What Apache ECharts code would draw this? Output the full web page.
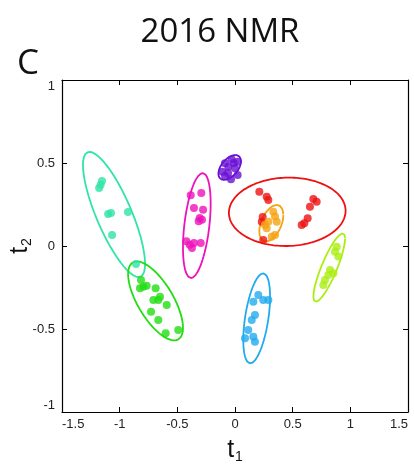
<!DOCTYPE html>
<html>
<head>
<meta charset="utf-8">
<script src="https://cdn.jsdelivr.net/npm/echarts@6/dist/echarts.min.js"></script>
<style>
  html, body { margin: 0; padding: 0; background: #fff; }
  #chart { width: 414px; height: 465px; }
</style>
</head>
<body>
<div id="chart"></div>
<script>
// Score plot (t1 vs t2) with one confidence ellipse per group.
const xTicks = [-1.5, -1, -0.5, 0, 0.5, 1, 1.5];
const yTicks = [-1, -0.5, 0, 0.5, 1];

const groupNames = ['G1', 'G2', 'G3', 'G4', 'G5', 'G6', 'G7', 'G8'];
const groupColors = ['#30e3a6', '#22dd11', '#ee11bb', '#6a10d4', '#ee1111', '#f5a312', '#22aaee', '#aaee11'];

// Scores [t1, t2] per group
const g1Scores = [[-1.165, 0.369], [-1.153, 0.392], [-1.178, 0.350], [-1.100, 0.193], [-1.075, 0.199],
  [-0.928, 0.205], [-1.066, 0.066], [-0.858, -0.108]];
const g2Scores = [[-0.815, -0.205], [-0.824, -0.255], [-0.795, -0.245], [-0.766, -0.239], [-0.688, -0.255],
  [-0.708, -0.325], [-0.650, -0.305], [-0.665, -0.325], [-0.592, -0.355], [-0.728, -0.396],
  [-0.665, -0.446], [-0.601, -0.526], [-0.492, -0.506]];
const g3Scores = [[-0.384, 0.305], [-0.292, 0.319], [-0.356, 0.229], [-0.277, 0.219], [-0.306, 0.169],
  [-0.286, 0.158], [-0.315, 0.149], [-0.422, 0.028], [-0.393, 0.008], [-0.373, -0.012],
  [-0.356, 0.018], [-0.297, 0.018]];
const g4Scores = [[-0.087, 0.498], [-0.029, 0.522], [0.023, 0.508], [-0.110, 0.448], [-0.087, 0.422],
  [0.000, 0.468], [-0.035, 0.402], [0.023, 0.428], [-0.058, 0.478], [-0.010, 0.500], [-0.060, 0.440]];
const g5Scores = [[0.211, 0.327], [0.275, 0.297], [0.289, 0.277], [0.679, 0.283], [0.708, 0.267],
  [0.650, 0.237], [0.630, 0.167], [0.601, 0.137], [0.578, 0.127], [0.240, 0.175],
  [0.232, 0.146], [0.245, 0.036]];
const g6Scores = [[0.332, 0.207], [0.347, 0.177], [0.289, 0.146], [0.362, 0.146], [0.260, 0.127],
  [0.275, 0.107], [0.347, 0.066], [0.318, 0.056]];
const g7Scores = [[0.202, -0.295], [0.245, -0.325], [0.289, -0.325], [0.159, -0.336], [0.173, -0.416],
  [0.145, -0.446], [0.115, -0.506], [0.159, -0.546], [0.087, -0.556], [0.173, -0.577]];
const g8Scores = [[0.882, -0.004], [0.867, -0.034], [0.896, -0.064], [0.824, -0.145], [0.809, -0.175],
  [0.780, -0.205], [0.766, -0.235], [0.853, -0.164]];
const groupScores = [g1Scores, g2Scores, g3Scores, g4Scores, g5Scores, g6Scores, g7Scores, g8Scores];

// Confidence ellipses: centre, half-range along t1 and t2, and correlation
const ellCenterX = [-1.049, -0.689, -0.331, -0.046, 0.453, 0.315, 0.188, 0.817];
const ellCenterY = [0.190, -0.331, 0.123, 0.473, 0.206, 0.137, -0.436, -0.130];
const ellHalfX = [0.269, 0.238, 0.120, 0.098, 0.506, 0.104, 0.116, 0.137];
const ellHalfY = [0.377, 0.238, 0.316, 0.075, 0.206, 0.110, 0.271, 0.206];
const ellRho = [-0.79, -0.68, 0.42, 0.5, 0.03, 0.45, 0.48, 0.85];

function ellipsePath(cx, cy, hx, hy, rho) {
  const phi = Math.acos(rho);
  const pts = [];
  const n = 160;
  for (let k = 0; k <= n; k++) {
    const t = 2 * Math.PI * k / n;
    pts.push([cx + hx * Math.cos(t), cy + hy * Math.cos(t + phi)]);
  }
  return pts;
}

const labelFont = 'Liberation Sans, Arial, sans-serif';
const headFont = '"Open Sans", Lato, sans-serif';
const series = [];
groupNames.forEach((name, i) => {
  series.push({
    name: name + ' ellipse',
    type: 'line',
    data: ellipsePath(ellCenterX[i], ellCenterY[i], ellHalfX[i], ellHalfY[i], ellRho[i]),
    showSymbol: false,
    silent: true,
    lineStyle: { color: groupColors[i], width: 1.8 },
    z: 2
  });
  series.push({
    name: name,
    type: 'scatter',
    data: groupScores[i],
    symbol: 'circle',
    symbolSize: 8,
    itemStyle: { color: groupColors[i] },
    z: 3
  });
});

const tickStyle = { show: true, inside: true, length: 5, lineStyle: { color: '#000', width: 1 } };
const lineStyleAxis = { show: true, onZero: false, lineStyle: { color: '#000', width: 1.2 } };

const chart = echarts.init(document.getElementById('chart'), null, { renderer: 'canvas' });
chart.setOption({
  animation: false,
  backgroundColor: '#fff',
  grid: { left: 62, right: 6, top: 80, bottom: 53, containLabel: false, outerBoundsMode: 'none' },
  graphic: [
    { type: 'text', x: 220, y: 33, style: { text: '2016 NMR', font: '33px ' + headFont, fill: '#111', align: 'center', verticalAlign: 'middle' } },
    { type: 'text', x: 28, y: 64, style: { text: 'C', font: '35px ' + headFont, fill: '#111', align: 'center', verticalAlign: 'middle' } }
  ],
  xAxis: [
    {
      type: 'value', min: xTicks[0], max: xTicks[xTicks.length - 1], interval: 0.5, position: 'bottom',
      axisLine: lineStyleAxis, axisTick: tickStyle, splitLine: { show: false },
      axisLabel: { fontFamily: labelFont, fontSize: 13, color: '#222', margin: 6, alignMinLabel: 'left', alignMaxLabel: 'right' },
      name: '{t|t}{s|1}', nameLocation: 'middle', nameGap: 24, nameMoveOverlap: false,
      nameTextStyle: {
        rich: {
          t: { fontFamily: labelFont, fontSize: 25, color: '#111' },
          s: { fontFamily: labelFont, fontSize: 14, color: '#111', padding: [14, 0, 0, 1] }
        }
      }
    },
    {
      type: 'value', min: xTicks[0], max: xTicks[xTicks.length - 1], interval: 0.5, position: 'top',
      axisLine: lineStyleAxis, axisTick: tickStyle, axisLabel: { show: false }, splitLine: { show: false }
    }
  ],
  yAxis: [
    {
      type: 'value', min: yTicks[0], max: yTicks[yTicks.length - 1], interval: 0.5, position: 'left',
      axisLine: lineStyleAxis, axisTick: tickStyle, splitLine: { show: false },
      axisLabel: { fontFamily: labelFont, fontSize: 13, color: '#222', margin: 7, verticalAlignMinLabel: 'bottom', verticalAlignMaxLabel: 'top' },
      name: '{t|t}{s|2}', nameLocation: 'middle', nameGap: 28, nameRotate: 90, nameMoveOverlap: false,
      nameTextStyle: {
        rich: {
          t: { fontFamily: labelFont, fontSize: 25, color: '#111' },
          s: { fontFamily: labelFont, fontSize: 14, color: '#111', padding: [14, 0, 0, 1] }
        }
      }
    },
    {
      type: 'value', min: yTicks[0], max: yTicks[yTicks.length - 1], interval: 0.5, position: 'right',
      axisLine: lineStyleAxis, axisTick: tickStyle, axisLabel: { show: false }, splitLine: { show: false }
    }
  ],
  series: series
});
</script>
</body>
</html>
